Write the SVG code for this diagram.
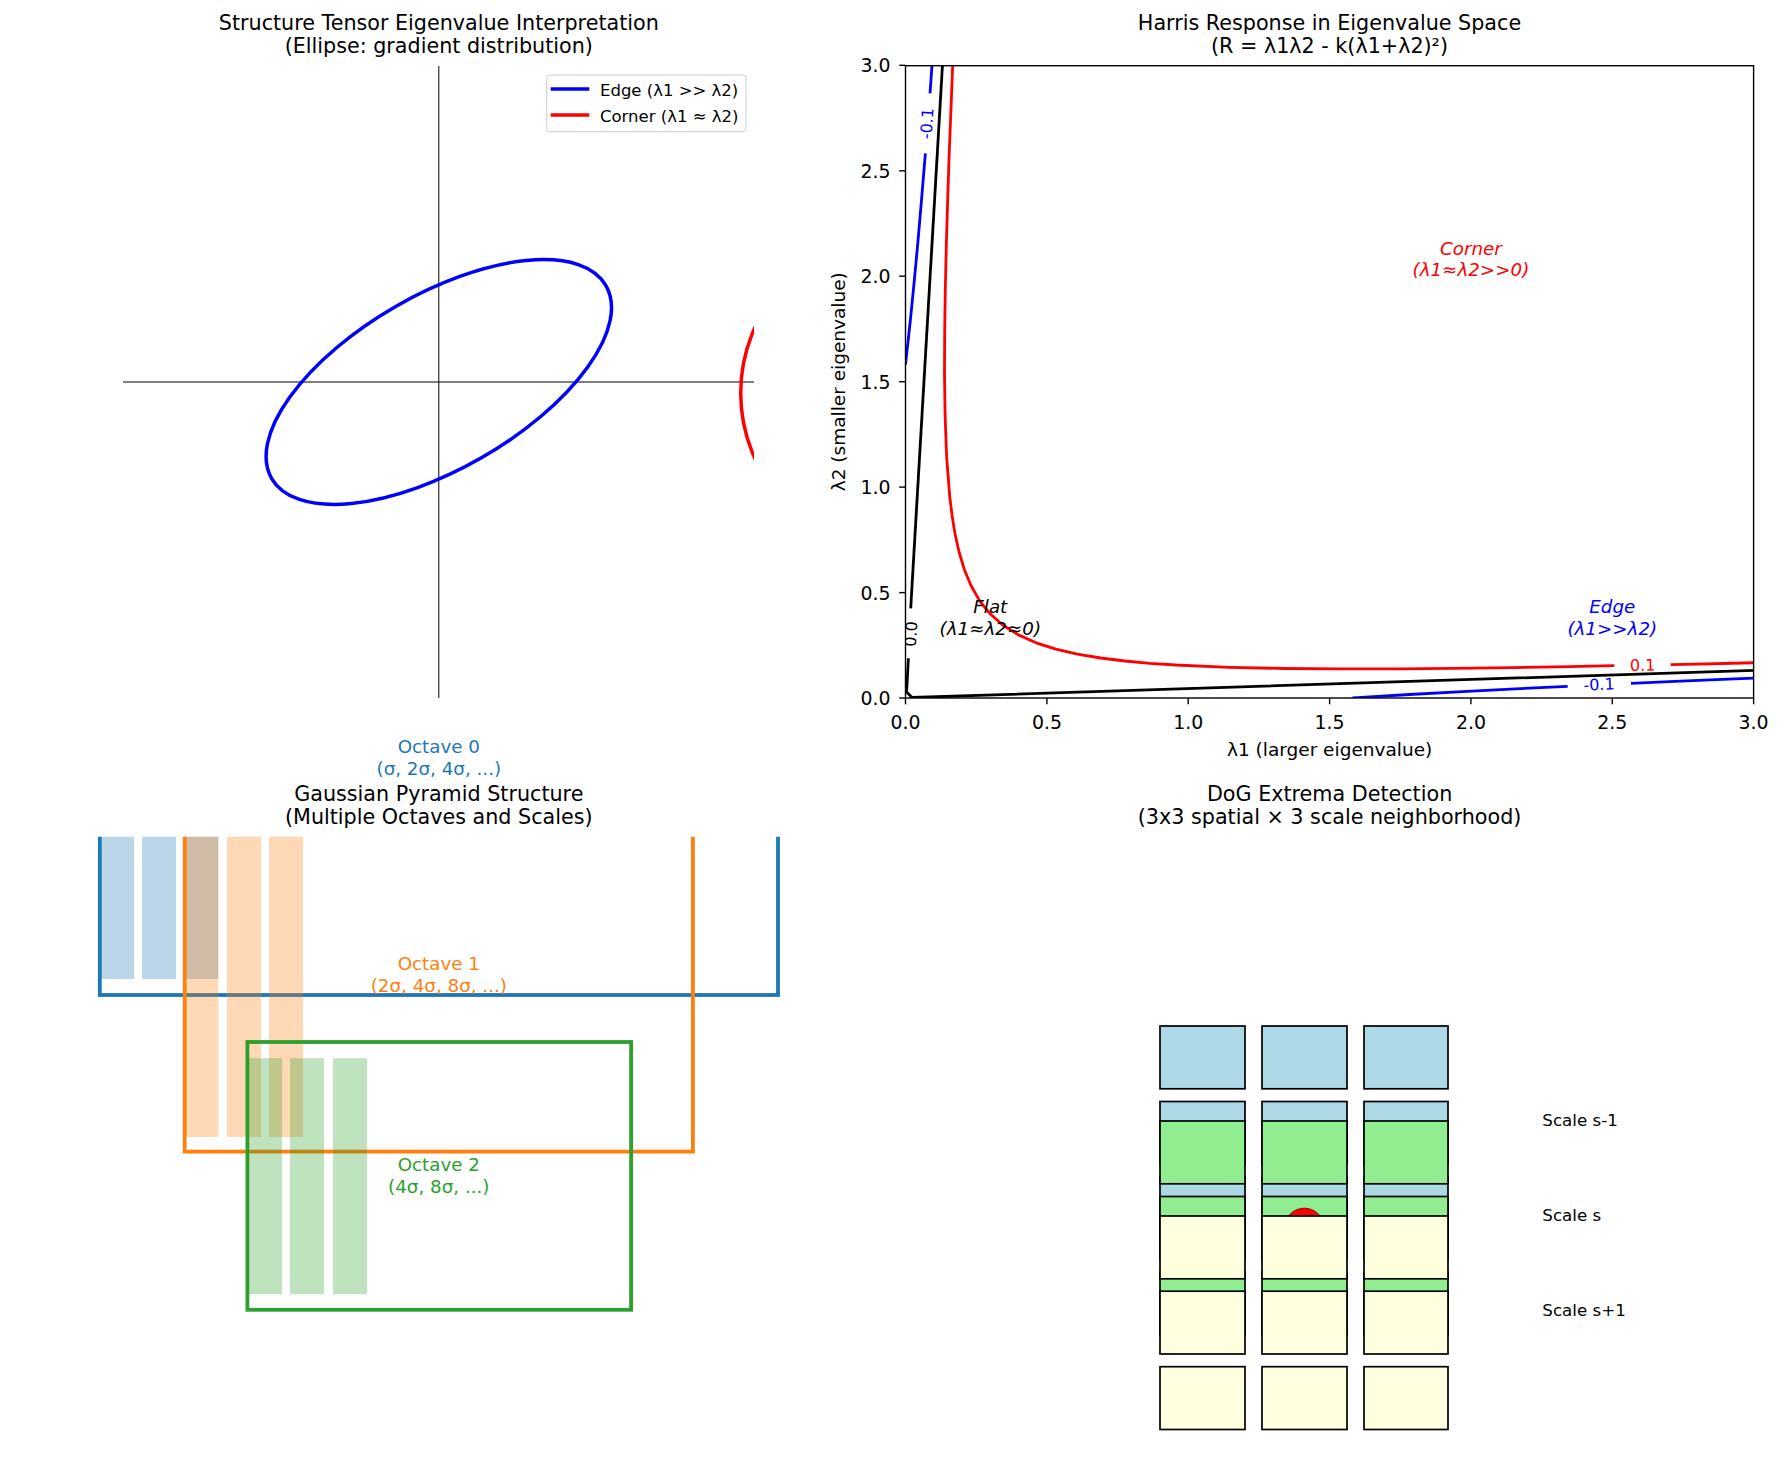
<svg xmlns="http://www.w3.org/2000/svg" width="1785" height="1483" viewBox="0 0 1785 1483">
<style>
text{font-family:"DejaVu Sans","Liberation Sans",sans-serif;fill:#000}
.title{font-size:20.7px;text-anchor:middle}
.tick{font-size:18.9px}
.tx{text-anchor:middle}
.ty{text-anchor:end}
.alab{font-size:18.5px;text-anchor:middle}
.ann{font-size:18.3px;font-style:italic;text-anchor:middle}
.clab{font-size:16px;text-anchor:middle}
.leg{font-size:16.5px}
.oct{font-size:18.3px;text-anchor:middle}
.scl{font-size:16.7px}
.spine{fill:none;stroke:#000;stroke-width:1.4}
.tk{stroke:#000;stroke-width:1.4}
.cont{fill:none;stroke-width:2.8;stroke-linejoin:round}
.cell{stroke:#000;stroke-width:1.7}
.oc{fill:none;stroke-width:3.8}
</style>
<defs>
<clipPath id="cp1"><rect x="122.6" y="66" width="631.4" height="632"/></clipPath>
<clipPath id="cp2"><rect x="905.5" y="65.7" width="848.1" height="632.3"/></clipPath>
<clipPath id="cp3"><rect x="0" y="836.7" width="890" height="640"/></clipPath>
</defs>
<rect width="1785" height="1483" fill="#fff"/>

<!-- Panel 1 -->
<g id="panel-structure-tensor">
<text class="title" x="438.8" y="29.7">Structure Tensor Eigenvalue Interpretation</text>
<text class="title" x="438.8" y="53.3">(Ellipse: gradient distribution)</text>
<g id="axes-lines">
<line x1="438.8" y1="66" x2="438.8" y2="698" stroke="#000" stroke-width="1"/>
<line x1="123" y1="382" x2="754" y2="382" stroke="#000" stroke-width="1"/>
</g>
<g id="edge-ellipse"><ellipse cx="0" cy="0" rx="193" ry="87" transform="translate(438.8 382) rotate(-30)" fill="none" stroke="#0000ff" stroke-width="3.5"/></g>
<g id="corner-circle" clip-path="url(#cp1)"><circle cx="898.7" cy="393" r="158" fill="none" stroke="#ff0000" stroke-width="3.5"/></g>
<g id="legend">
<rect x="546.7" y="75" width="199.3" height="56.7" rx="3" fill="#fff" fill-opacity="0.8" stroke="#cccccc" stroke-width="1"/>
<line x1="550.7" y1="89" x2="589.3" y2="89" stroke="#0000ff" stroke-width="3.5"/>
<text class="leg" x="600" y="96">Edge (λ1 &gt;&gt; λ2)</text>
<line x1="550.7" y1="115" x2="589.3" y2="115" stroke="#ff0000" stroke-width="3.5"/>
<text class="leg" x="600" y="121.7">Corner (λ1 ≈ λ2)</text>
</g>
</g>

<!-- Panel 2 -->
<g id="panel-harris">
<text class="title" x="1329.5" y="29.7">Harris Response in Eigenvalue Space</text>
<text class="title" x="1329.5" y="53.3">(R = λ1λ2 - k(λ1+λ2)²)</text>
<g id="harris-contours" clip-path="url(#cp2)">
<polyline class="cont" stroke="#ff0000" points="952.8,63.7 952.4,72.5 950.7,115.9 949.0,159.4 947.6,202.6 946.3,245.8 945.3,288.7 944.7,331.3 944.5,373.6 945.1,415.4 946.6,456.4 949.7,496.3 952.1,515.6 955.1,534.4 959.2,552.5 964.4,569.7 971.1,585.8 979.5,600.6 990.1,613.8 1003.0,625.2 1018.4,634.9 1036.1,642.8 1055.9,649.1 1077.4,654.1 1100.5,658.0 1124.8,661.0 1150,663.3 1175.8,665.0 1229.3,667.3 1284.3,668.5 1340.3,668.9 1397.0,668.8 1454.2,668.3 1511.7,667.6 1569.5,666.6 1614.3,665.7"/>
<polyline class="cont" stroke="#ff0000" points="1670.7,664.6 1685.7,664.3 1744.0,663.0 1756,662.7"/>
<polyline class="cont" stroke="#0000ff" points="1352.5,698 1357.4,697.7 1409.7,694.5 1462.3,691.6 1515.2,688.8 1567.7,686.3"/>
<polyline class="cont" stroke="#0000ff" points="1631,683.4 1674.9,681.4 1728.4,679.2 1756,678.0"/>
<polyline class="cont" stroke="#0000ff" points="905.5,364.6 905.9,360.9 910.2,321.9 914.1,282.6 917.8,243.2 921.2,203.6 924.5,163.9 925.4,153.3"/>
<polyline class="cont" stroke="#0000ff" points="930.0,93.3 930.7,84.1 932.2,62"/>
<polyline class="cont" stroke="#000" points="910.7,608.3 942.6,62.7"/>
<polyline class="cont" stroke="#000" points="908.4,658.3 906.6,692 912,697.5 1756,670.3"/>
<text class="clab" fill="#0000ff" style="fill:#0000ff" transform="translate(926.7 123.5) rotate(-85.6)" dy="0.36em">-0.1</text>
<text class="clab" transform="translate(910.8 634) rotate(-86.7)" dy="0.36em">0.0</text>
<text class="clab" style="fill:#0000ff" transform="translate(1599 684.3) rotate(-2.5)" dy="0.36em">-0.1</text>
<text class="clab" style="fill:#ff0000" transform="translate(1642.5 665) rotate(-1.2)" dy="0.36em">0.1</text>
</g>
<g id="harris-annotations">
<text class="ann" style="fill:#ff0000" x="1470.9" y="254.5">Corner</text>
<text class="ann" style="fill:#ff0000" x="1470.9" y="276">(λ1≈λ2&gt;&gt;0)</text>
<text class="ann" style="fill:#0000ff" x="1612.3" y="613">Edge</text>
<text class="ann" style="fill:#0000ff" x="1612.3" y="634.5">(λ1&gt;&gt;λ2)</text>
<text class="ann" x="990.3" y="613">Flat</text>
<text class="ann" x="990.3" y="634.5">(λ1≈λ2≈0)</text>
</g>
<rect class="spine" x="905.5" y="65.7" width="848.1" height="632.3"/>
<g id="harris-ticks">
<line class="tk" x1="905.5" y1="698" x2="905.5" y2="704.3"/>
<line class="tk" x1="1046.9" y1="698" x2="1046.9" y2="704.3"/>
<line class="tk" x1="1188.2" y1="698" x2="1188.2" y2="704.3"/>
<line class="tk" x1="1329.6" y1="698" x2="1329.6" y2="704.3"/>
<line class="tk" x1="1470.9" y1="698" x2="1470.9" y2="704.3"/>
<line class="tk" x1="1612.3" y1="698" x2="1612.3" y2="704.3"/>
<line class="tk" x1="1753.6" y1="698" x2="1753.6" y2="704.3"/>
<line class="tk" x1="899.2" y1="698" x2="905.5" y2="698"/>
<line class="tk" x1="899.2" y1="592.6" x2="905.5" y2="592.6"/>
<line class="tk" x1="899.2" y1="487.1" x2="905.5" y2="487.1"/>
<line class="tk" x1="899.2" y1="381.7" x2="905.5" y2="381.7"/>
<line class="tk" x1="899.2" y1="276.2" x2="905.5" y2="276.2"/>
<line class="tk" x1="899.2" y1="170.8" x2="905.5" y2="170.8"/>
<line class="tk" x1="899.2" y1="65.3" x2="905.5" y2="65.3"/>
<text class="tick tx" x="905.5" y="729">0.0</text>
<text class="tick tx" x="1046.9" y="729">0.5</text>
<text class="tick tx" x="1188.2" y="729">1.0</text>
<text class="tick tx" x="1329.6" y="729">1.5</text>
<text class="tick tx" x="1470.9" y="729">2.0</text>
<text class="tick tx" x="1612.3" y="729">2.5</text>
<text class="tick tx" x="1753.6" y="729">3.0</text>
<text class="tick ty" x="890.5" y="704.9">0.0</text>
<text class="tick ty" x="890.5" y="599.5">0.5</text>
<text class="tick ty" x="890.5" y="494">1.0</text>
<text class="tick ty" x="890.5" y="388.6">1.5</text>
<text class="tick ty" x="890.5" y="283.1">2.0</text>
<text class="tick ty" x="890.5" y="177.7">2.5</text>
<text class="tick ty" x="890.5" y="72.2">3.0</text>
</g>
<text class="alab" x="1329.6" y="749.5" dy="0.35em">λ1 (larger eigenvalue)</text>
<text class="alab" transform="translate(838.5 381.7) rotate(-90)" dy="0.35em">λ2 (smaller eigenvalue)</text>
</g>

<!-- Panel 3 -->
<g id="panel-pyramid">
<g id="pyramid-shapes" clip-path="url(#cp3)">
<g id="octave0">
<rect class="oc" stroke="#1f77b4" x="99.8" y="700" width="678.2" height="295"/>
<rect x="100" y="800" width="34" height="179" fill="#1f77b4" fill-opacity="0.3"/>
<rect x="142" y="800" width="34" height="179" fill="#1f77b4" fill-opacity="0.3"/>
<rect x="184.3" y="800" width="34" height="179" fill="#1f77b4" fill-opacity="0.3"/>
</g>
<g id="octave1">
<rect class="oc" stroke="#ff7f0e" x="184.7" y="700" width="508.2" height="451.6"/>
<rect x="184.7" y="800" width="33.5" height="337" fill="#ff7f0e" fill-opacity="0.3"/>
<rect x="227" y="800" width="34" height="337" fill="#ff7f0e" fill-opacity="0.3"/>
<rect x="269" y="800" width="34" height="337" fill="#ff7f0e" fill-opacity="0.3"/>
</g>
<g id="octave2">
<rect class="oc" stroke="#2ca02c" x="247.4" y="1042" width="383.7" height="267.8"/>
<rect x="247.4" y="1058.2" width="34.7" height="236" fill="#2ca02c" fill-opacity="0.3"/>
<rect x="290" y="1058.2" width="34" height="236" fill="#2ca02c" fill-opacity="0.3"/>
<rect x="333" y="1058.2" width="34" height="236" fill="#2ca02c" fill-opacity="0.3"/>
</g>
</g>
<text class="oct" style="fill:#1f77b4" x="438.8" y="753.3">Octave 0</text>
<text class="oct" style="fill:#1f77b4" x="438.8" y="775">(σ, 2σ, 4σ, ...)</text>
<text class="oct" style="fill:#ff7f0e" x="438.8" y="969.8">Octave 1</text>
<text class="oct" style="fill:#ff7f0e" x="438.8" y="991.5">(2σ, 4σ, 8σ, ...)</text>
<text class="oct" style="fill:#2ca02c" x="438.8" y="1170.8">Octave 2</text>
<text class="oct" style="fill:#2ca02c" x="438.8" y="1192.5">(4σ, 8σ, ...)</text>
<text class="title" x="438.8" y="800.7">Gaussian Pyramid Structure</text>
<text class="title" x="438.8" y="824.3">(Multiple Octaves and Scales)</text>
</g>

<!-- Panel 4 -->
<g id="panel-dog">
<text class="title" x="1329.6" y="800.7">DoG Extrema Detection</text>
<text class="title" x="1329.6" y="824.3">(3x3 spatial × 3 scale neighborhood)</text>
<g id="scale-s-minus-1" fill="#add8e6">
<rect class="cell" x="1160" y="1026" width="85" height="62.8"/>
<rect class="cell" x="1262" y="1026" width="85" height="62.8"/>
<rect class="cell" x="1364" y="1026" width="84" height="62.8"/>
<rect class="cell" x="1160" y="1101.5" width="85" height="62.8"/>
<rect class="cell" x="1262" y="1101.5" width="85" height="62.8"/>
<rect class="cell" x="1364" y="1101.5" width="84" height="62.8"/>
<rect class="cell" x="1160" y="1177" width="85" height="62.8"/>
<rect class="cell" x="1262" y="1177" width="85" height="62.8"/>
<rect class="cell" x="1364" y="1177" width="84" height="62.8"/>
</g>
<g id="scale-s" fill="#90ee90">
<rect class="cell" x="1160" y="1121" width="85" height="62.8"/>
<rect class="cell" x="1262" y="1121" width="85" height="62.8"/>
<rect class="cell" x="1364" y="1121" width="84" height="62.8"/>
<rect class="cell" x="1160" y="1196.5" width="85" height="62.8"/>
<rect class="cell" x="1262" y="1196.5" width="85" height="62.8"/>
<rect class="cell" x="1364" y="1196.5" width="84" height="62.8"/>
<rect class="cell" x="1160" y="1272" width="85" height="62.8"/>
<rect class="cell" x="1262" y="1272" width="85" height="62.8"/>
<rect class="cell" x="1364" y="1272" width="84" height="62.8"/>
</g>
<g id="extremum"><circle cx="1304.3" cy="1228" r="19.8" fill="#ff0000" stroke="#8b0000" stroke-width="1"/></g>
<g id="scale-s-plus-1" fill="#ffffe0">
<rect class="cell" x="1160" y="1216" width="85" height="62.8"/>
<rect class="cell" x="1262" y="1216" width="85" height="62.8"/>
<rect class="cell" x="1364" y="1216" width="84" height="62.8"/>
<rect class="cell" x="1160" y="1291.2" width="85" height="62.8"/>
<rect class="cell" x="1262" y="1291.2" width="85" height="62.8"/>
<rect class="cell" x="1364" y="1291.2" width="84" height="62.8"/>
<rect class="cell" x="1160" y="1366.7" width="85" height="62.8"/>
<rect class="cell" x="1262" y="1366.7" width="85" height="62.8"/>
<rect class="cell" x="1364" y="1366.7" width="84" height="62.8"/>
</g>
<text class="scl" x="1542.3" y="1126">Scale s-1</text>
<text class="scl" x="1542.3" y="1220.7">Scale s</text>
<text class="scl" x="1542.3" y="1315.7">Scale s+1</text>
</g>
</svg>
